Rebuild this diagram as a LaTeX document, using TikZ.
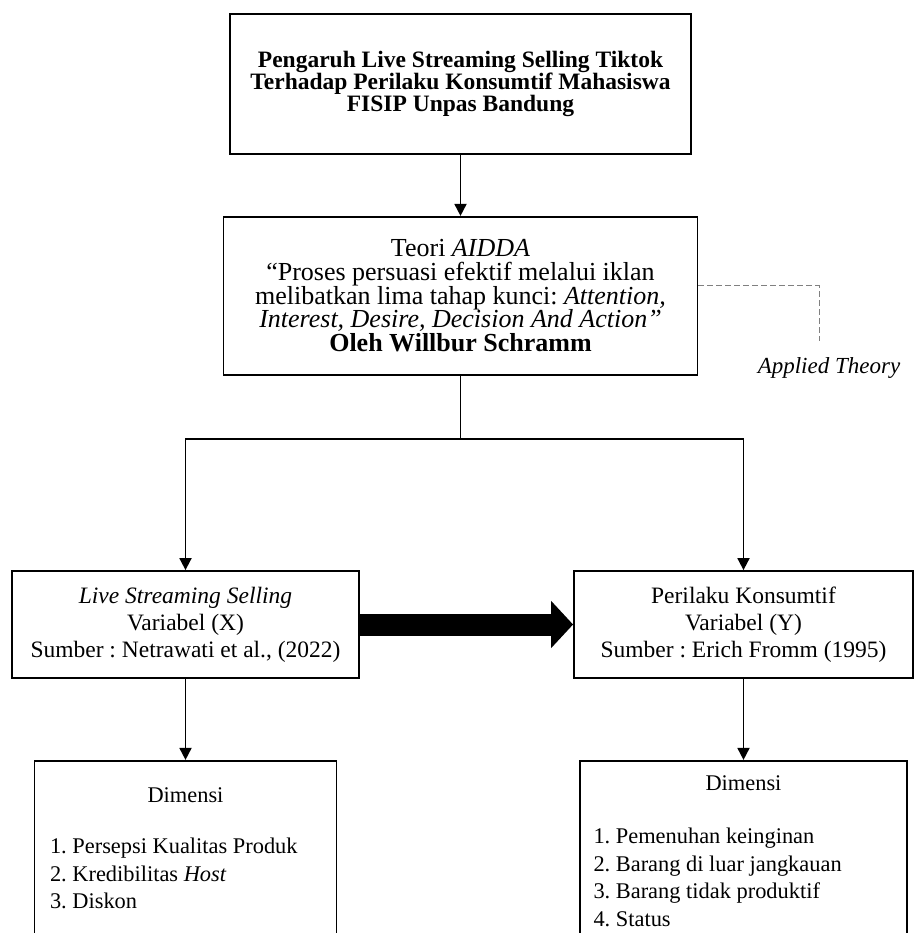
\documentclass[tikz,border=0pt]{standalone}
\usepackage{fontspec}
\setmainfont{Liberation Serif}
\frenchspacing
\usetikzlibrary{positioning,arrows.meta}
\tikzset{judul node/.style={rectangle,draw,line width=0.9pt,minimum width=230.5pt,minimum height=70pt,inner sep=0pt,align=center,font=\fontsize{11.75pt}{11pt}\selectfont\bfseries},
            teori node/.style={rectangle,draw,line width=0.9pt,minimum width=237pt,minimum height=79pt,inner sep=0pt,align=center,font=\fontsize{13pt}{11.85pt}\selectfont},
            var node/.style={rectangle,draw,line width=0.9pt,minimum height=53.5pt,inner sep=0pt,align=center,font=\fontsize{11.75pt}{13.5pt}\selectfont},
            dimensi node/.style={rectangle,draw,line width=0.9pt,minimum height=100pt,inner sep=0pt},
            isi/.style={inner sep=0pt,font=\fontsize{11.2pt}{13.75pt}\selectfont},
            panah/.style={line width=0.9pt,-{Triangle[length=6pt,width=6pt]}},
            panah besar/.style={line width=11pt,-{Triangle[length=11pt,width=23pt]}},
            garis putus/.style={gray,line width=0.5pt,dash pattern=on 3pt off 1.5pt},
            }
\begin{document}
\begin{tikzpicture}[x=0.5pt,y=-0.5pt]
    \useasboundingbox (0,0) rectangle (915,933);
    \clip (0,0) rectangle (915,933);

    \node[judul node] (judul) at (460.5,84) {Pengaruh Live Streaming Selling Tiktok\\Terhadap Perilaku Konsumtif Mahasiswa\\FISIP Unpas Bandung};
    \node[teori node] (teori) [below = 30.5pt of judul] {Teori \textit{AIDDA}\\“Proses persuasi efektif melalui iklan\\melibatkan lima tahap kunci: \textit{Attention,}\\\textit{Interest, Desire, Decision And Action”}\\\textbf{Oleh Willbur Schramm}};
    \node[var node,minimum width=173.5pt] (varx) at (185.5,624.5) {\textit{Live Streaming Selling}\\Variabel (X)\\Sumber : Netrawati et al., (2022)};
    \node[var node,minimum width=169.5pt] (vary) at (743.5,624.5) {Perilaku Konsumtif\\Variabel (Y)\\Sumber : Erich Fromm (1995)};
    \node[dimensi node,minimum width=151pt] (dimx) [below = 40.5pt of varx] {};
    \node[dimensi node,minimum width=163.5pt] (dimy) [below = 40.5pt of vary] {};

    % isi kotak dimensi
    \node[isi,anchor=base] (dimxjudul) at ([yshift=-21.5pt]dimx.north) {Dimensi};
    \node[isi,anchor=north west,align=left] (dimxisi) at ([shift={(8pt,-39pt)}]dimx.north west) {1. Persepsi Kualitas Produk\\2. Kredibilitas \textit{Host}\\3. Diskon};
    \node[isi,anchor=base] (dimyjudul) at ([yshift=-15.5pt]dimy.north) {Dimensi};
    \node[isi,anchor=north west,align=left] (dimyisi) at ([shift={(7pt,-34pt)}]dimy.north west) {1. Pemenuhan keinginan\\2. Barang di luar jangkauan\\3. Barang tidak produktif\\4. Status};

    \coordinate (cabang) at (460.5,439);
    \coordinate (ujung) at (819,341);

    \path[draw,panah]
    (judul) edge (teori)
    (varx) edge (dimx)
    (vary) edge (dimy);

    \draw[line width=0.9pt] (teori) -- (cabang);
    \draw[panah] (cabang) -| (varx);
    \draw[panah] (cabang) -| (vary);
    \draw[panah besar] (varx) -- (vary);

    \draw[garis putus] ([yshift=5pt]teori.east) -| (ujung);
    \node[isi,font=\fontsize{11.5pt}{13pt}\selectfont\itshape] (applied) at (829,368) {Applied Theory};
\end{tikzpicture}
\end{document}
